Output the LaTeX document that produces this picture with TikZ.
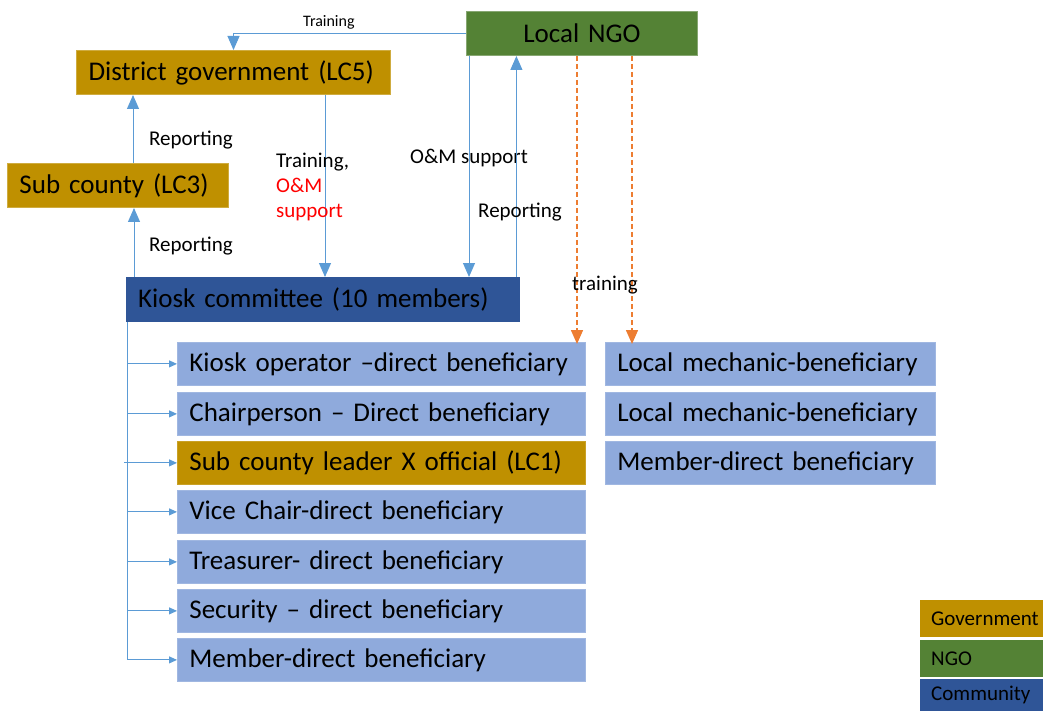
\documentclass[tikz,border=0pt]{standalone}
\usepackage{fontspec}
\setmainfont{Carlito}
\usetikzlibrary{arrows.meta,calc}
\definecolor{gov}{HTML}{BF9000}
\definecolor{ngoc}{HTML}{548235}
\definecolor{comm}{HTML}{2F5597}
\definecolor{lb}{HTML}{8FAADC}
\definecolor{ln}{HTML}{5B9BD5}
\definecolor{orng}{HTML}{ED7D31}
\tikzset{
  box/.style={anchor=north west, inner xsep=12pt, inner ysep=0pt, align=left,
    font=\fontsize{27}{30}\selectfont},
  lst/.style={box, fill=lb, draw=lb!85!white, line width=0.8pt, minimum width=408pt, text width=384pt, minimum height=43pt},
  rlst/.style={box, fill=lb, draw=lb!85!white, line width=0.8pt, minimum width=330pt, text width=306pt, minimum height=43pt},
  lbl/.style={font=\fontsize{21}{24}\selectfont, anchor=west, inner sep=0pt},
  arr/.style={draw=ln, line width=1pt, -{Triangle[width=12pt,length=14pt]}},
  sarr/.style={draw=ln, line width=1pt, -{Triangle[width=7pt,length=8pt]}},
  ln/.style={draw=ln, line width=1pt},
  oarr/.style={draw=orng, line width=1.5pt, dash pattern=on 5pt off 3pt, -{Triangle[width=12pt,length=14pt]}},
  leg/.style={anchor=north west, inner xsep=11pt, inner ysep=0pt, minimum width=123pt, text width=101pt, align=left, font=\fontsize{21}{24}\selectfont},
}
\begin{document}
\begin{tikzpicture}[x=1pt,y=-1pt]
\useasboundingbox (0,0) rectangle (1043,711);
% main boxes
\node[box, fill=ngoc, draw=ngoc!70!white, line width=1pt, minimum width=231pt, minimum height=44pt, text width=207pt, align=center] (ngo) at (466,11) {Local NGO};
\node[box, fill=gov, draw=gov!75!white, line width=1pt, minimum width=314pt, minimum height=44pt, text width=290pt] (dist) at (76,50) {District government (LC5)};
\node[box, fill=gov, draw=gov!75!white, line width=1pt, minimum width=221pt, minimum height=44pt, text width=197pt] (sub) at (7,163) {Sub county (LC3)};
\node[box, fill=comm, minimum width=394pt, minimum height=45pt, text width=370pt] (kiosk) at (126,277) {Kiosk committee (10 members)};
% list boxes
\node[lst] (b1) at (177,342) {Kiosk operator –direct beneficiary};
\node[lst] (b2) at (177,392) {Chairperson – Direct beneficiary};
\node[lst, fill=gov, draw=gov!85!white] (b3) at (177,441) {Sub county leader X official (LC1)};
\node[lst] (b4) at (177,490) {Vice Chair-direct beneficiary};
\node[lst] (b5) at (177,540) {Treasurer- direct beneficiary};
\node[lst] (b6) at (177,589) {Security – direct beneficiary};
\node[lst] (b7) at (177,638) {Member-direct beneficiary};
\node[rlst] (r1) at (605,342) {Local mechanic-beneficiary};
\node[rlst] (r2) at (605,392) {Local mechanic-beneficiary};
\node[rlst] (r3) at (605,441) {Member-direct beneficiary};
% legend
\node[leg, fill=gov, minimum height=37pt] (lg1) at (920,600) {Government};
\node[leg, fill=ngoc, minimum height=37pt] (lg2) at (920,640) {NGO};
\node[leg, fill=comm, minimum height=32pt] (lg3) at (920,679) {Community};
% connectors
\draw[arr] (ngo.west) -| (dist.north);
\node[lbl, font=\fontsize{16}{19}\selectfont] (ltr) at (303,22) {Training};
\coordinate (sa) at ([xshift=126pt]sub.north west);
\draw[arr] (sa) -- (sa |- dist.south);
\node[lbl] (lrep1) at (149,140) {Reporting};
\coordinate (ka) at ([xshift=8pt]kiosk.north west);
\draw[arr] (ka) -- (ka |- sub.south);
\node[lbl] (lrep2) at (149,246) {Reporting};
\coordinate (da) at ([xshift=-66pt]dist.south east);
\draw[arr] (da) -- (da |- kiosk.north);
\node[lbl, align=left, font=\fontsize{21}{25}\selectfont, anchor=north west] (ltom) at (276,153) {Training,\\\textcolor{red}{O\&M}\\\textcolor{red}{support}};
\coordinate (na) at ([xshift=3pt]ngo.south west);
\draw[arr] (na) -- (na |- kiosk.north);
\node[lbl] (lom) at (410,158) {O\&M support};
\coordinate (kb) at ([xshift=-4pt]kiosk.north east);
\draw[arr] (kb) -- (kb |- ngo.south);
\node[lbl] (lrep3) at (478,212) {Reporting};
\coordinate (o1) at ([xshift=111pt]ngo.south west);
\coordinate (o2) at ([xshift=166pt]ngo.south west);
\draw[oarr] (o1) -- ([yshift=-2pt]o1 |- r1.north);
\draw[oarr] (o2) -- ([yshift=-2pt]o2 |- r1.north);
\node[lbl] (ltrn) at (572,285) {training};
% bracket
\coordinate (kc) at ([xshift=1pt]kiosk.south west);
\draw[ln] (kc) -- (kc |- b7.west);
\foreach \b in {b1,b2,b4,b5,b6,b7}{
  \draw[sarr] (kc |- \b.west) -- (\b.west);
}
\draw[sarr] ([xshift=-3pt]kc |- b3.west) -- (b3.west);
\end{tikzpicture}
\end{document}
